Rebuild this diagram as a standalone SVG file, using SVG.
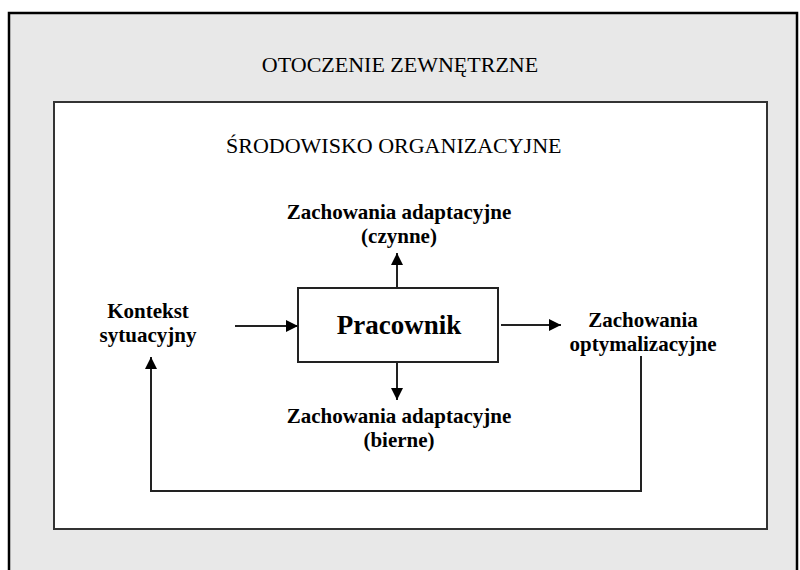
<svg xmlns="http://www.w3.org/2000/svg" width="800" height="570" viewBox="0 0 800 570">
<style>
.title{font-family:"Liberation Serif","Times New Roman",serif;font-size:22px;fill:#000}
.lbl{font-family:"Liberation Serif","Times New Roman",serif;font-size:21px;font-weight:bold;fill:#000;text-anchor:middle}
.main{font-family:"Liberation Serif","Times New Roman",serif;font-size:27px;font-weight:bold;fill:#000;text-anchor:middle}
.conn{fill:none;stroke:#222;stroke-width:2}
</style>
<defs>
<marker id="ah" markerUnits="userSpaceOnUse" markerWidth="14" markerHeight="14" viewBox="0 0 14 14" refX="13" refY="7" orient="auto">
<path d="M1,1 L13,7 L1,13 Z" fill="#000"/>
</marker>
</defs>
<g id="otoczenie">
<rect x="9" y="13" width="788" height="600" fill="#e8e8e8" stroke="#000" stroke-width="2.5"/>
<text class="title" x="400" y="72" text-anchor="middle">OTOCZENIE ZEWNĘTRZNE</text>
</g>
<g id="srodowisko">
<rect x="54" y="102" width="713" height="427" fill="#fff" stroke="#333" stroke-width="2"/>
<text class="title" x="226" y="153">ŚRODOWISKO ORGANIZACYJNE</text>
</g>
<g id="pracownik">
<rect x="298" y="288" width="200" height="74" fill="#fff" stroke="#222" stroke-width="2"/>
<text class="main" x="399" y="334">Pracownik</text>
</g>
<g id="czynne">
<text class="lbl" x="399" y="219">Zachowania adaptacyjne</text>
<text class="lbl" x="399" y="243">(czynne)</text>
</g>
<g id="bierne">
<text class="lbl" x="399" y="423">Zachowania adaptacyjne</text>
<text class="lbl" x="399" y="447">(bierne)</text>
</g>
<g id="kontekst">
<text class="lbl" x="148" y="318">Kontekst</text>
<text class="lbl" x="148" y="342">sytuacyjny</text>
</g>
<g id="optymalizacyjne">
<text class="lbl" x="643" y="327">Zachowania</text>
<text class="lbl" x="643" y="351">optymalizacyjne</text>
</g>
<g id="connectors">
<line class="conn" x1="397" y1="287" x2="397" y2="253" marker-end="url(#ah)"/>
<line class="conn" x1="397" y1="362" x2="397" y2="400" marker-end="url(#ah)"/>
<line class="conn" x1="235" y1="326" x2="298" y2="326" marker-end="url(#ah)"/>
<line class="conn" x1="501" y1="325" x2="561" y2="325" marker-end="url(#ah)"/>
<path class="conn" d="M641,356 V491 H151 V357" marker-end="url(#ah)"/>
</g>
</svg>
